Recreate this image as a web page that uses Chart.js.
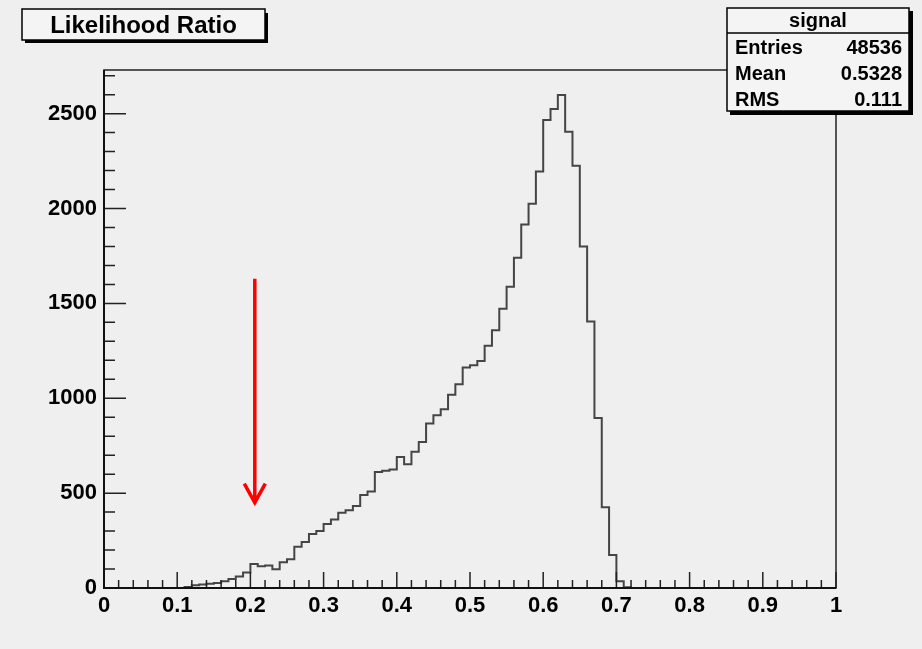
<!DOCTYPE html>
<html>
<head>
<meta charset="utf-8">
<title>Likelihood Ratio</title>
<script src="https://cdn.jsdelivr.net/npm/chart.js@4.4.1/dist/chart.umd.min.js"></script>
<style>
  html, body { margin: 0; padding: 0; background: #efefef; }
</style>
</head>
<body>
<canvas id="lr" width="922" height="649"></canvas>
<script>
// histogram "signal", 100 bins from 0 to 1
const histTitle = 'Likelihood Ratio';
const histName = 'signal';
const binLow = 0;
const binWidth = 0.01;
const counts = [
  0, 0, 0, 0, 0, 0, 0, 0, 0, 0,
  0, 5, 15, 18, 22, 27, 35, 48, 60, 82,
  127, 114, 118, 99, 136, 152, 218, 242, 285, 300,
  337, 361, 396, 410, 432, 490, 508, 612, 618, 624,
  690, 652, 718, 770, 867, 911, 942, 1019, 1074, 1162,
  1174, 1196, 1277, 1358, 1472, 1588, 1740, 1916, 2025, 2195,
  2466, 2525, 2598, 2404, 2226, 1800, 1405, 896, 425, 174,
  35, 4, 0, 0, 0, 0, 0, 0, 0, 0,
  0, 0, 0, 0, 0, 0, 0, 0, 0, 0,
  0, 0, 0, 0, 0, 0, 0, 0, 0, 0
];
const statLabels = ['Entries', 'Mean', 'RMS'];
const statValues = ['48536', '0.5328', '0.111'];
const xTicks = [0, 0.1, 0.2, 0.3, 0.4, 0.5, 0.6, 0.7, 0.8, 0.9, 1];
const xTickLabels = ['0', '0.1', '0.2', '0.3', '0.4', '0.5', '0.6', '0.7', '0.8', '0.9', '1'];
const yTicks = [0, 500, 1000, 1500, 2000, 2500];
const xMinorStep = 0.02;
const yMax = 2730, yMinorStep = 100;
// red arrow marking the cut
const cutX = 0.206, cutFrom = 1630, cutTo = 450;

const points = counts.map((c, i) => ({ x: binLow + i * binWidth, y: c }));
points.push({ x: binLow + counts.length * binWidth, y: counts[counts.length - 1] });

const tickFont = { family: '"Liberation Sans", Arial, sans-serif', size: 22, weight: 'bold' };

const rootDecor = {
  id: 'rootDecor',
  beforeDraw(chart) {
    const ctx = chart.ctx;
    ctx.save();
    ctx.fillStyle = '#efefef';
    ctx.fillRect(0, 0, chart.width, chart.height);
    ctx.restore();
  },
  afterDatasetsDraw(chart) {
    const ctx = chart.ctx;
    const a = chart.chartArea;
    const xs = chart.scales.x, ys = chart.scales.y;
    ctx.save();
    ctx.strokeStyle = '#222';
    ctx.lineWidth = 1.5;
    ctx.strokeRect(a.left, a.top, a.right - a.left, a.bottom - a.top);
    ctx.beginPath();
    // x ticks, pointing up into the frame
    const nx = Math.round((xs.max - xs.min) / xMinorStep);
    for (let k = 0; k <= nx; k++) {
      const px = xs.getPixelForValue(xs.min + k * xMinorStep);
      const len = k % 5 === 0 ? 16 : 8;
      ctx.moveTo(px, a.bottom);
      ctx.lineTo(px, a.bottom - len);
    }
    // y ticks, pointing right
    const ny = Math.floor(yMax / yMinorStep);
    for (let k = 0; k <= ny; k++) {
      const py = ys.getPixelForValue(k * yMinorStep);
      const len = k % 5 === 0 ? 22 : 11;
      ctx.moveTo(a.left, py);
      ctx.lineTo(a.left + len, py);
    }
    ctx.stroke();
    // axis lines
    ctx.lineWidth = 2;
    ctx.strokeStyle = '#111';
    ctx.beginPath();
    ctx.moveTo(a.left, a.top);
    ctx.lineTo(a.left, a.bottom);
    ctx.lineTo(a.right, a.bottom);
    ctx.stroke();

    // arrow
    const ax = xs.getPixelForValue(cutX);
    const ay0 = ys.getPixelForValue(cutFrom);
    const ay1 = ys.getPixelForValue(cutTo);
    ctx.strokeStyle = '#ff0000';
    ctx.lineWidth = 3.5;
    ctx.beginPath();
    ctx.moveTo(ax, ay0);
    ctx.lineTo(ax, ay1);
    ctx.moveTo(ax - 10.5, ay1 - 19);
    ctx.lineTo(ax, ay1);
    ctx.lineTo(ax + 10.5, ay1 - 19);
    ctx.stroke();
    ctx.restore();
  },
  afterDraw(chart) {
    const ctx = chart.ctx;
    ctx.save();
    // title box
    ctx.fillStyle = '#000';
    ctx.fillRect(25, 13, 243, 30);
    ctx.fillStyle = '#f4f4f4';
    ctx.fillRect(22, 9, 243, 31);
    ctx.strokeStyle = '#000';
    ctx.lineWidth = 1.5;
    ctx.strokeRect(22, 9, 243, 31);
    ctx.fillStyle = '#000';
    ctx.font = 'bold 24px "Liberation Sans", Arial, sans-serif';
    ctx.textAlign = 'center';
    ctx.textBaseline = 'alphabetic';
    ctx.fillText(histTitle, 143.5, 33);

    // stats box
    const bx = 727, by = 8, bw = 182, bh = 103;
    ctx.fillStyle = '#000';
    ctx.fillRect(bx + 3, by + 3, bw + 1, bh + 1);
    ctx.fillStyle = '#f4f4f4';
    ctx.fillRect(bx, by, bw, bh);
    ctx.strokeRect(bx, by, bw, bh);
    ctx.beginPath();
    ctx.moveTo(bx, 33);
    ctx.lineTo(bx + bw, 33);
    ctx.stroke();
    ctx.fillStyle = '#000';
    ctx.font = 'bold 20px "Liberation Sans", Arial, sans-serif';
    ctx.textAlign = 'center';
    ctx.fillText(histName, 818, 27);
    statLabels.forEach((lab, i) => {
      const base = 54 + i * 26;
      ctx.textAlign = 'left';
      ctx.fillText(lab, 735, base);
      ctx.textAlign = 'right';
      ctx.fillText(statValues[i], 902, base);
    });
    ctx.restore();
  }
};

new Chart(document.getElementById('lr'), {
  type: 'line',
  data: {
    datasets: [{
      label: histName,
      data: points,
      stepped: 'before',
      borderColor: '#454545',
      borderWidth: 2,
      pointRadius: 0,
      fill: false
    }]
  },
  options: {
    responsive: false,
    animation: false,
    devicePixelRatio: 1,
    layout: { padding: { left: 0, right: 86, top: 70, bottom: 0 } },
    plugins: {
      legend: { display: false },
      tooltip: { enabled: false },
      title: { display: false }
    },
    scales: {
      x: {
        type: 'linear',
        min: xTicks[0],
        max: xTicks[xTicks.length - 1],
        grid: { display: false, drawTicks: false },
        border: { display: false },
        afterBuildTicks: s => { s.ticks = xTicks.map(v => ({ value: v })); },
        ticks: {
          autoSkip: false,
          maxRotation: 0,
          padding: 5,
          color: '#000',
          font: tickFont,
          callback: (v, i) => xTickLabels[i]
        },
        afterFit: s => { s.height = 61; }
      },
      y: {
        type: 'linear',
        min: 0,
        max: yMax,
        grid: { display: false, drawTicks: false },
        border: { display: false },
        afterBuildTicks: s => { s.ticks = yTicks.map(v => ({ value: v })); },
        ticks: {
          autoSkip: false,
          padding: 7,
          color: '#000',
          font: tickFont,
          callback: v => String(v)
        },
        afterFit: s => { s.width = 104; }
      }
    }
  },
  plugins: [rootDecor]
});
</script>
</body>
</html>
